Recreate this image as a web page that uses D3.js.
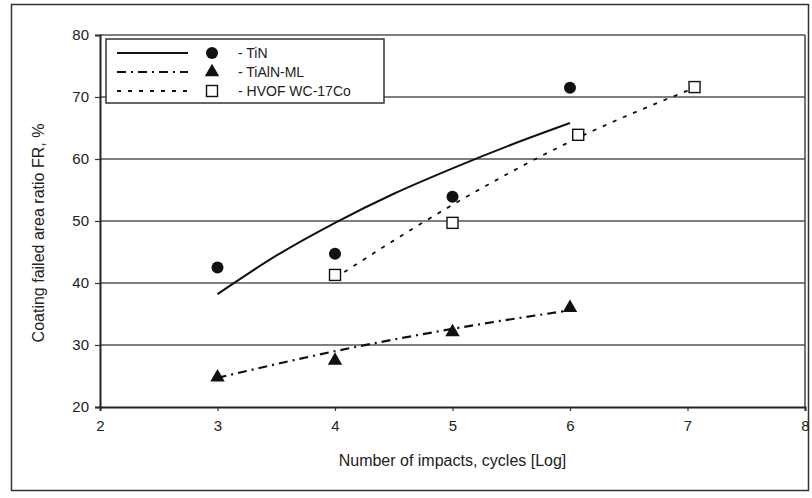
<!doctype html>
<html lang="en">
<head>
    <meta charset="UTF-8">
    <title>Coating failed area ratio</title>
    <style>
        body { margin: 0; background: #fff; }
        text { font-family: "Liberation Sans", Arial, sans-serif; fill: #222; }
    </style>
</head>
<body>
<script src="https://cdn.jsdelivr.net/npm/d3@7"></script>
<script>

    // measured points
    const tinX = [3, 4, 5, 6]
    const tinY = [42.5, 44.7, 53.9, 71.5]
    const tialnX = [3, 4, 5, 6]
    const tialnY = [24.8, 27.5, 32.1, 36]
    const hvofX = [4, 5, 6.07, 7.06]
    const hvofY = [41.3, 49.7, 63.9, 71.6]

    // trend lines
    const tinFitX = [3, 3.5, 4, 4.5, 5, 5.5, 6]
    const tinFitY = [38.2, 44.4, 49.7, 54.4, 58.5, 62.3, 65.8]
    const tialnFitX = [3, 4, 5, 6]
    const tialnFitY = [24.7, 29.0, 32.6, 35.6]
    const hvofFitX = [4, 5, 6, 7.05]
    const hvofFitY = [40.8, 52.6, 62.8, 71.4]

    const xTicks = [2, 3, 4, 5, 6, 7, 8]
    const yTicks = [20, 30, 40, 50, 60, 70, 80]
    const legendLabels = ['- TiN', '- TiAlN-ML', '- HVOF WC-17Co']

    const W = 812, H = 498
    const plot = {left: 100, right: 805, top: 35, bottom: 407}

    const svg = d3.select('body').append('svg')
        .attr('width', W)
        .attr('height', H)

    // outer frame
    svg.append('rect')
        .attr('x', 11.5).attr('y', 4.5)
        .attr('width', 797).attr('height', 486)
        .attr('fill', 'none')
        .attr('stroke', '#333')
        .attr('stroke-width', 1.5)

    const x = d3.scaleLinear().domain([2, 8]).range([plot.left, plot.right])
    const y = d3.scaleLinear().domain([20, 80]).range([plot.bottom, plot.top])

    // gridlines
    svg.append('g')
        .selectAll('line')
        .data(yTicks.filter(d => d > 20))
        .enter()
        .append('line')
        .attr('x1', plot.left)
        .attr('x2', plot.right)
        .attr('y1', d => y(d))
        .attr('y2', d => y(d))
        .attr('stroke', '#555')
        .attr('stroke-width', 1.5)

    // right border
    svg.append('line')
        .attr('x1', plot.right).attr('x2', plot.right)
        .attr('y1', plot.top).attr('y2', plot.bottom)
        .attr('stroke', '#444').attr('stroke-width', 1.5)

    // axes
    const xAxis = svg.append('g')
        .attr('transform', `translate(0, ${plot.bottom})`)
        .call(d3.axisBottom(x).tickValues(xTicks).tickFormat(d3.format('d')).tickSize(4).tickPadding(9))
    const yAxis = svg.append('g')
        .attr('transform', `translate(${plot.left}, 0)`)
        .call(d3.axisLeft(y).tickValues(yTicks).tickFormat(d3.format('d')).tickSize(5).tickPadding(6))

    ;[xAxis, yAxis].forEach(a => {
        a.select('.domain').attr('stroke', '#222').attr('stroke-width', 2)
        a.selectAll('.tick line').attr('stroke', '#333').attr('stroke-width', 1.2)
        a.selectAll('.tick text')
            .attr('font-size', 15)
            .attr('font-family', '"Liberation Sans", Arial, sans-serif')
            .attr('fill', '#222')
    })

    svg.append('text')
        .attr('x', (plot.left + plot.right) / 2)
        .attr('y', 466)
        .attr('text-anchor', 'middle')
        .attr('font-size', 16)
        .text('Number of impacts, cycles [Log]')

    svg.append('text')
        .attr('transform', `translate(44, ${(plot.top + plot.bottom) / 2 + 12}) rotate(-90)`)
        .attr('text-anchor', 'middle')
        .attr('font-size', 16)
        .text('Coating failed area ratio FR, %')

    // trend lines
    const lineGen = d3.line()
        .x(d => x(d[0]))
        .y(d => y(d[1]))
        .curve(d3.curveMonotoneX)

    const fits = [
        {xs: tinFitX, ys: tinFitY, dash: null, w: 2},
        {xs: tialnFitX, ys: tialnFitY, dash: '9,5,2,5', w: 2.2},
        {xs: hvofFitX, ys: hvofFitY, dash: '4,7', w: 1.8}
    ]

    svg.append('g')
        .selectAll('path')
        .data(fits)
        .enter()
        .append('path')
        .attr('d', d => lineGen(d.xs.map((v, i) => [v, d.ys[i]])))
        .attr('fill', 'none')
        .attr('stroke', '#111')
        .attr('stroke-width', d => d.w)
        .attr('stroke-dasharray', d => d.dash)

    // markers
    const pts = (xs, ys) => xs.map((v, i) => ({x: v, y: ys[i]}))

    svg.append('g')
        .selectAll('circle')
        .data(pts(tinX, tinY))
        .enter()
        .append('circle')
        .attr('cx', d => x(d.x))
        .attr('cy', d => y(d.y))
        .attr('r', 6)
        .attr('fill', '#111')

    const tri = d3.symbol().type(d3.symbolTriangle).size(90)
    svg.append('g')
        .selectAll('path')
        .data(pts(tialnX, tialnY))
        .enter()
        .append('path')
        .attr('d', tri)
        .attr('transform', d => `translate(${x(d.x)}, ${y(d.y)})`)
        .attr('fill', '#111')

    svg.append('g')
        .selectAll('rect')
        .data(pts(hvofX, hvofY))
        .enter()
        .append('rect')
        .attr('x', d => x(d.x) - 5.5)
        .attr('y', d => y(d.y) - 5.5)
        .attr('width', 11)
        .attr('height', 11)
        .attr('fill', '#fff')
        .attr('stroke', '#111')
        .attr('stroke-width', 1.4)

    // legend
    const legend = svg.append('g')
    legend.append('rect')
        .attr('x', 106).attr('y', 39)
        .attr('width', 278).attr('height', 64)
        .attr('fill', '#fff')
        .attr('stroke', '#333')
        .attr('stroke-width', 1.5)

    const rowY = [53, 72, 91]
    legend.selectAll('line')
        .data(fits)
        .enter()
        .append('line')
        .attr('x1', 117).attr('x2', 188)
        .attr('y1', (d, i) => rowY[i]).attr('y2', (d, i) => rowY[i])
        .attr('stroke', '#111')
        .attr('stroke-width', d => d.w)
        .attr('stroke-dasharray', d => d.dash)

    legend.append('circle').attr('cx', 212).attr('cy', rowY[0]).attr('r', 6).attr('fill', '#111')
    legend.append('path').attr('d', tri).attr('transform', `translate(212, ${rowY[1]})`).attr('fill', '#111')
    legend.append('rect').attr('x', 206.5).attr('y', rowY[2] - 5.5).attr('width', 11).attr('height', 11)
        .attr('fill', '#fff').attr('stroke', '#111').attr('stroke-width', 1.4)

    legend.selectAll('text.lab')
        .data(legendLabels)
        .enter()
        .append('text')
        .attr('class', 'lab')
        .attr('x', 238)
        .attr('y', (d, i) => rowY[i] + 5)
        .attr('font-size', 14)
        .text(d => d)

</script>
</body>
</html>
